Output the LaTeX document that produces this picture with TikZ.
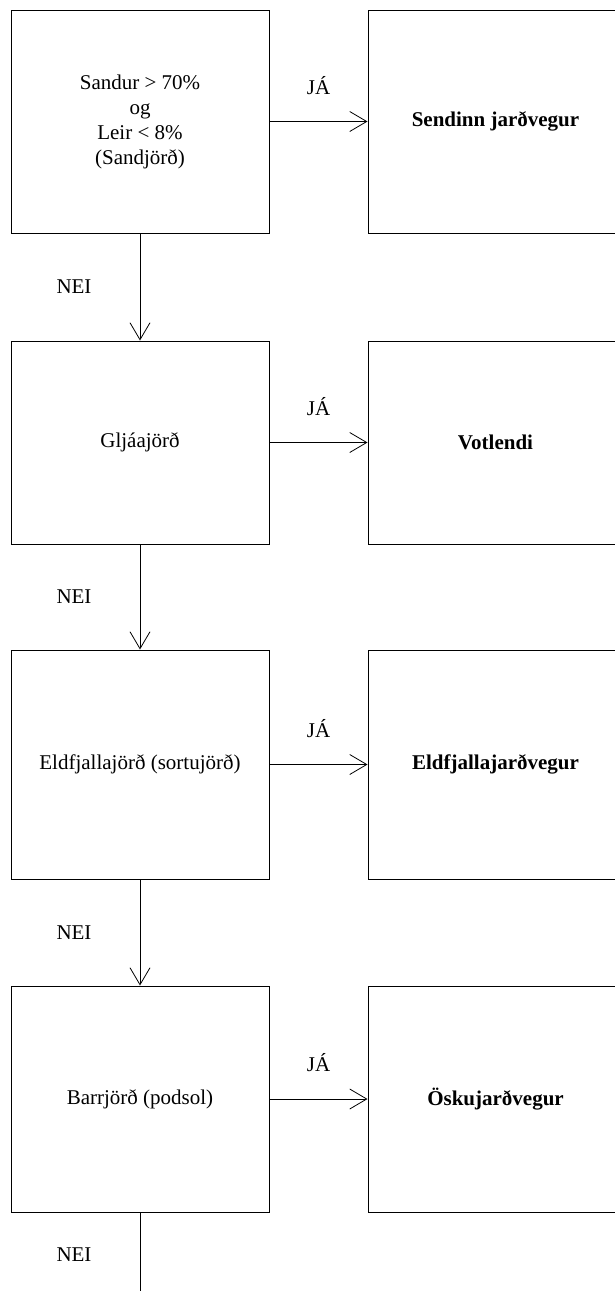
\documentclass[tikz,border=0pt]{standalone}
\usepackage{fontspec}
\setmainfont{Liberation Serif}
\usetikzlibrary{arrows.meta}

\tikzstyle{every node}=[font=\fontsize{21}{25}\selectfont, inner sep=0pt]
\tikzstyle{qbox}=[draw, line width=1pt, minimum width=258pt, align=center]
\tikzstyle{abox}=[draw, line width=1pt, minimum width=255pt, font=\fontsize{21}{25}\selectfont\bfseries]
\tikzstyle{jaarrow}=[-{Straight Barb[length=17pt,width=20pt]}, line width=0.8pt]

\begin{document}
\begin{tikzpicture}[x=1pt, y=-1pt]
  \useasboundingbox (0,0) rectangle (614,1291);
  \node[qbox, minimum height=223pt] (sand) at (140,121.5) {Sandur > 70\%\\og\\Leir < 8\%\\(Sandjörð)};
  \node[abox, minimum height=223pt] (sendinn) at (495.5,121.5) {Sendinn jarðvegur};
  \node[qbox, minimum height=203pt] (glja) at (140,442.5) {Gljáajörð};
  \node[abox, minimum height=203pt] (votl) at (495.5,442.5) {Votlendi};
  \node[qbox, minimum height=229pt] (eld) at (140,764.5) {Eldfjallajörð (sortujörð)};
  \node[abox, minimum height=229pt] (eldjv) at (495.5,764.5) {Eldfjallajarðvegur};
  \node[qbox, minimum height=226pt] (barr) at (140,1099) {Barrjörð (podsol)};
  \node[abox, minimum height=226pt] (osku) at (495.5,1099) {Öskujarðvegur};
  \coordinate (end) at (140,1296);

  \draw[jaarrow] (sand.east) -- node[midway, yshift=36pt] {JÁ} (sendinn.west);
  \draw[jaarrow] (glja.east) -- node[midway, yshift=36pt] {JÁ} (votl.west);
  \draw[jaarrow] (eld.east) -- node[midway, yshift=36pt] {JÁ} (eldjv.west);
  \draw[jaarrow] (barr.east) -- node[midway, yshift=36pt] {JÁ} (osku.west);

  \draw[jaarrow] (sand.south) -- node[midway, xshift=-66pt] {NEI} (glja.north);
  \draw[jaarrow] (glja.south) -- node[midway, xshift=-66pt] {NEI} (eld.north);
  \draw[jaarrow] (eld.south) -- node[midway, xshift=-66pt] {NEI} (barr.north);
  \draw[line width=0.8pt] (barr.south) -- node[midway, xshift=-66pt] {NEI} (end);
\end{tikzpicture}
\end{document}
